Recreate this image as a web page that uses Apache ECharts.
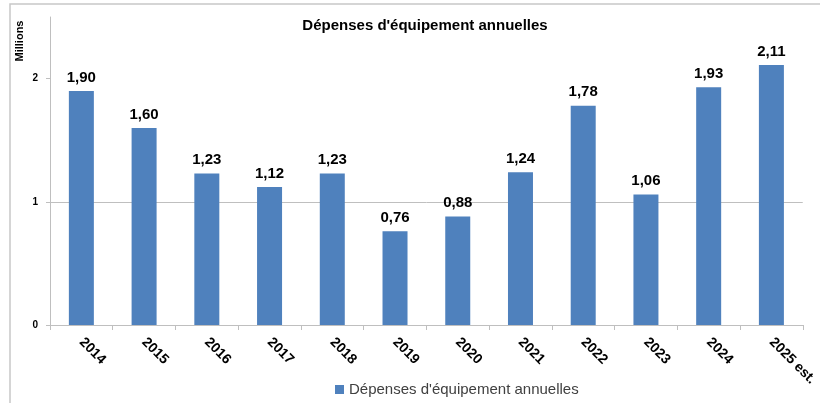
<!DOCTYPE html>
<html>
<head>
<meta charset="utf-8">
<script src="https://cdn.jsdelivr.net/npm/echarts@6/dist/echarts.min.js"></script>
<style>
  html, body { margin: 0; padding: 0; background: #fff; }
  #chart { width: 820px; height: 403px; }
</style>
</head>
<body>
<div id="chart"></div>
<script>
// données (en millions)
var years = ["2014", "2015", "2016", "2017", "2018", "2019", "2020", "2021", "2022", "2023", "2024", "2025 est."];
var depenses = [1.90, 1.60, 1.23, 1.12, 1.23, 0.76, 0.88, 1.24, 1.78, 1.06, 1.93, 2.11];
var yTicks = [0, 1, 2];

var chart = echarts.init(document.getElementById("chart"));
var fnt = "'Liberation Sans', Arial, sans-serif";

var option = {
  animation: false,
  textStyle: { fontFamily: fnt },
  title: {
    text: "Dépenses d'équipement annuelles",
    left: 420,
    textAlign: "center",
    top: 13,
    textStyle: { fontSize: 15, fontWeight: "bold", color: "#000", fontFamily: fnt }
  },
  // cadre gris + titre de l'axe
  graphic: [
    {
      type: "rect",
      shape: { x: 10, y: 4, width: 840, height: 440 },
      style: { fill: null, stroke: "#c8c8c8", lineWidth: 1.5 },
      silent: true
    },
    {
      type: "text",
      x: 20, y: 41,
      rotation: Math.PI / 2,
      style: {
        text: "Millions",
        align: "center",
        verticalAlign: "middle",
        font: "bold 11px " + fnt,
        fill: "#000"
      }
    }
  ],
  legend: {
    data: ["Dépenses d'équipement annuelles"],
    left: 330,
    top: 377,
    icon: "rect",
    itemWidth: 9,
    itemHeight: 9,
    itemGap: 5,
    textStyle: { fontSize: 15, color: "#404040", fontFamily: fnt }
  },
  grid: { left: 50, right: 10, top: 17, bottom: 78 },
  xAxis: {
    type: "category",
    data: years,
    axisLine: { lineStyle: { color: "#bfbfbf", width: 1 } },
    axisTick: { show: true, length: 5, lineStyle: { color: "#bfbfbf" } },
    axisLabel: {
      rotate: -45,
      margin: 15,
      interval: 0,
      fontSize: 14,
      fontWeight: "bold",
      color: "#000"
    }
  },
  yAxis: {
    type: "value",
    min: 0,
    max: 2.5,
    interval: 1,
    axisLine: { show: true, lineStyle: { color: "#bfbfbf" } },
    axisTick: { show: true, length: 4, customValues: yTicks, lineStyle: { color: "#bfbfbf" } },
    axisLabel: {
      customValues: yTicks,
      margin: 12,
      fontSize: 10,
      fontWeight: "bold",
      color: "#000"
    },
    splitLine: { show: true, showMaxLine: false, lineStyle: { color: "#bfbfbf" } }
  },
  series: [
    {
      name: "Dépenses d'équipement annuelles",
      type: "bar",
      data: depenses,
      barWidth: 25,
      itemStyle: { color: "#4F81BD" },
      label: {
        show: true,
        position: "top",
        distance: 6,
        fontSize: 15,
        fontWeight: "bold",
        color: "#000",
        formatter: function (p) {
          return p.value.toFixed(2).replace(".", ",");
        }
      }
    }
  ]
};

chart.setOption(option);
</script>
</body>
</html>
